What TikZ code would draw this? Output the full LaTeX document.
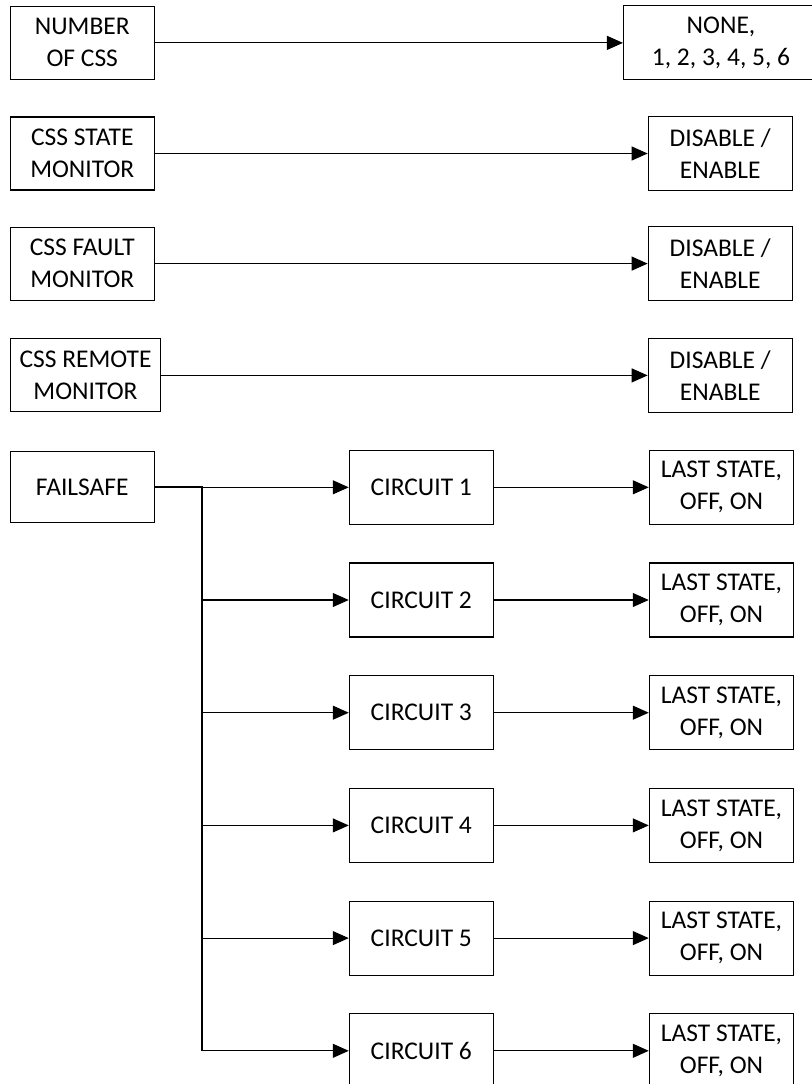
\documentclass[tikz,border=0pt]{standalone}
\usepackage{fontspec}
\setmainfont{Carlito}
\usetikzlibrary{arrows.meta}
\begin{document}
\begin{tikzpicture}[x=1pt,y=-1pt,
  box/.style={draw,line width=1.1pt,minimum width=144pt,minimum height=73pt,
    inner sep=0pt,align=center,font=\fontsize{25.5}{32}\selectfont},
  link/.style={line width=1.1pt,-{Triangle[length=16pt,width=14pt]}},
  trunk/.style={line width=1.7pt}]
\useasboundingbox (0,0) rectangle (811,1084);

% settings rows
\node[box] (ncss) at (82.3,42.9) {NUMBER\\OF CSS};
\node[box,minimum width=195pt,minimum height=74pt] (ncssv) at (721,42.9) {NONE,\\1, 2, 3, 4, 5, 6};
\draw[link] (ncss) -- (ncssv);

\node[box] (smon) at (82.3,153.5) {CSS STATE\\MONITOR};
\node[box,minimum height=74pt] (smonv) at (720.2,153.5) {DISABLE /\\ENABLE};
\draw[link] (smon) -- (smonv);

\node[box] (fmon) at (82.3,263.6) {CSS FAULT\\MONITOR};
\node[box,minimum height=74pt] (fmonv) at (720.2,263.6) {DISABLE /\\ENABLE};
\draw[link] (fmon) -- (fmonv);

\node[box,minimum width=150.4pt] (rmon) at (85.5,375.4) {CSS REMOTE\\MONITOR};
\node[box,minimum height=74pt] (rmonv) at (720.2,375.4) {DISABLE /\\ENABLE};
\draw[link] (rmon) -- (rmonv);

% failsafe tree
\node[box,minimum height=71pt] (fs) at (82.3,487.3) {FAILSAFE};
\coordinate (jn) at (202.3,487.3);
\foreach \i in {1,...,6} {
  \pgfmathsetmacro\yy{487.3+(\i-1)*112.7}
  \node[box,minimum height=74pt] (c\i) at (421.3,\yy) {CIRCUIT \i};
  \node[box,minimum height=74pt,minimum width=144.4pt] (l\i) at (721.5,\yy) {LAST STATE,\\OFF, ON};
  \draw[link] (jn|-c\i) -- (c\i);
  \draw[link] (c\i) -- (l\i);
}
\draw[trunk] (fs.east) -- (jn) -- (jn|-c6);
\end{tikzpicture}
\end{document}
